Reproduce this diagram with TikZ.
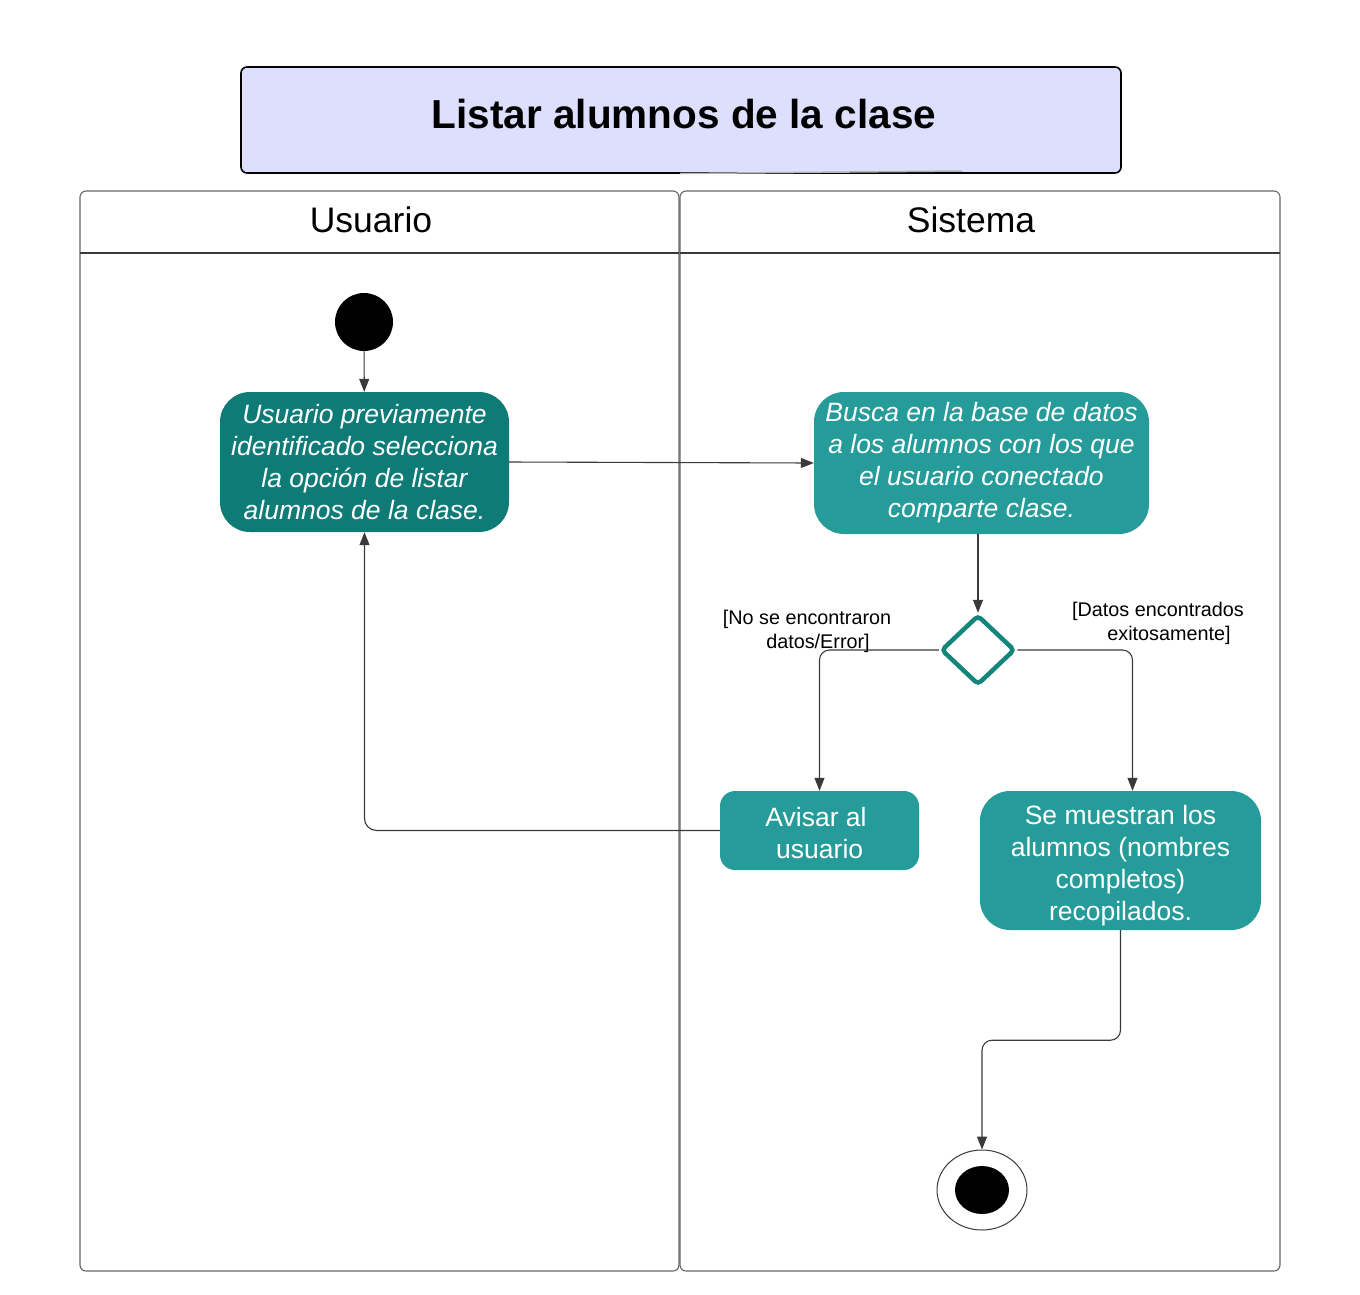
\documentclass[tikz,border=0pt]{standalone}
\usepackage{fontspec}
\setmainfont{Liberation Sans}
\usetikzlibrary{shapes.geometric,arrows.meta}
\definecolor{darkteal}{HTML}{0F7B77}
\definecolor{tealb}{HTML}{269C9A}
\definecolor{diamc}{HTML}{13857A}
\definecolor{lav}{HTML}{DEDFFC}
\definecolor{conn}{HTML}{3A3A3A}
\definecolor{lanec}{HTML}{666666}
\begin{document}
\begin{tikzpicture}[x=1pt,y=-1pt,
  lane/.style={draw=lanec,line width=1.1pt,rounded corners=6pt},
  act/.style={rounded corners=30pt,text=white,align=center,inner sep=0pt,
    font=\fontsize{26.5}{32}\selectfont},
  arr/.style={draw=conn,line width=1.1pt,-{Triangle[length=13pt,width=10pt]}},
  guard/.style={align=center,font=\fontsize{19.8}{24}\selectfont,inner sep=0pt},
  hdr/.style={font=\fontsize{35.5}{40}\selectfont,inner sep=0pt}]
\useasboundingbox (0,0) rectangle (1360,1294);
% title
\node[draw=black,line width=1.6pt,fill=lav,rounded corners=6pt,minimum width=880pt,minimum height=106pt,inner sep=0pt] (title) at (681,120) {};
\node[font=\bfseries\fontsize{40.5}{46}\selectfont,inner sep=0pt] (titletext) at (684,114) {Listar alumnos de la clase};
\draw[gray!60,line width=1.5pt] (680,173.5) -- (962,171);
% lanes
\draw[lane] (80,191) rectangle (679,1271);
\draw[lane] (680,191) rectangle (1280,1271);
\draw[draw=conn,line width=1.1pt] (80,253) -- (679,253);
\draw[draw=conn,line width=1.1pt] (680,253) -- (1280,253);
\node[hdr] (h1) at (371,220) {Usuario};
\node[hdr] (h2) at (971,220) {Sistema};
% nodes
\node[circle,fill=black,minimum size=58pt,inner sep=0pt] (start) at (364,322) {};
\node[act,fill=darkteal,minimum width=289pt,minimum height=140pt,font=\fontsize{26.5}{32}\selectfont\itshape] (A) at (364.5,462)
  {Usuario previamente\\identificado selecciona\\la opción de listar\\alumnos de la clase.};
\node[act,fill=tealb,minimum width=335pt,minimum height=142pt,font=\fontsize{26.5}{32}\selectfont\itshape] (B) at (981.5,463)
  {Busca en la base de datos\\a los alumnos con los que\\el usuario conectado\\comparte clase.};
\node[diamond,draw=diamc,line width=4.5pt,rounded corners=4pt,minimum width=74pt,minimum height=70pt,inner sep=0pt] (dec) at (978,650) {};
\node[act,fill=tealb,rounded corners=15pt,minimum width=199pt,minimum height=79pt] (C) at (819.5,830.5) {};
\node[text=white,align=center,inner sep=0pt,font=\fontsize{26.5}{32}\selectfont] (Ct) at (816,833) {Avisar al\\\ usuario};
\node[act,fill=tealb,minimum width=281pt,minimum height=139pt] (D) at (1120.5,860.5) {};
\node[text=white,align=center,inner sep=0pt,font=\fontsize{26.5}{32}\selectfont] (Dt) at (1120.5,866)
  {Se muestran los\\alumnos (nombres\\completos)\\recopilados.};
\node[ellipse,draw=conn,line width=1pt,minimum width=90pt,minimum height=80pt,inner sep=0pt] (endo) at (982,1190) {};
\node[ellipse,fill=black,minimum width=54pt,minimum height=48pt,inner sep=0pt] (endi) at (982,1190) {};
% guards
\node[guard] (g1) at (807,631) {[No se encontraron\\ \ \ \ \ datos/Error]};
\node[guard] (g2) at (1158,623) {[Datos encontrados\\ \ \ \ \ exitosamente]};
% connectors
\draw[arr] (start) -- (A);
\draw[arr] (A.east) -- (B.west);
\draw[arr] (dec.north |- B.south) -- (dec.north);
\draw[arr,rounded corners=10pt] (dec.west) -| (C.north);
\draw[arr,rounded corners=10pt] (dec.east) -| ([xshift=12pt]D.north);
\draw[arr,rounded corners=12pt] (C.west) -| (A.south);
\draw[arr,rounded corners=10pt] (D.south) -- ++(0,110) -| (endo.north);
\end{tikzpicture}
\end{document}
